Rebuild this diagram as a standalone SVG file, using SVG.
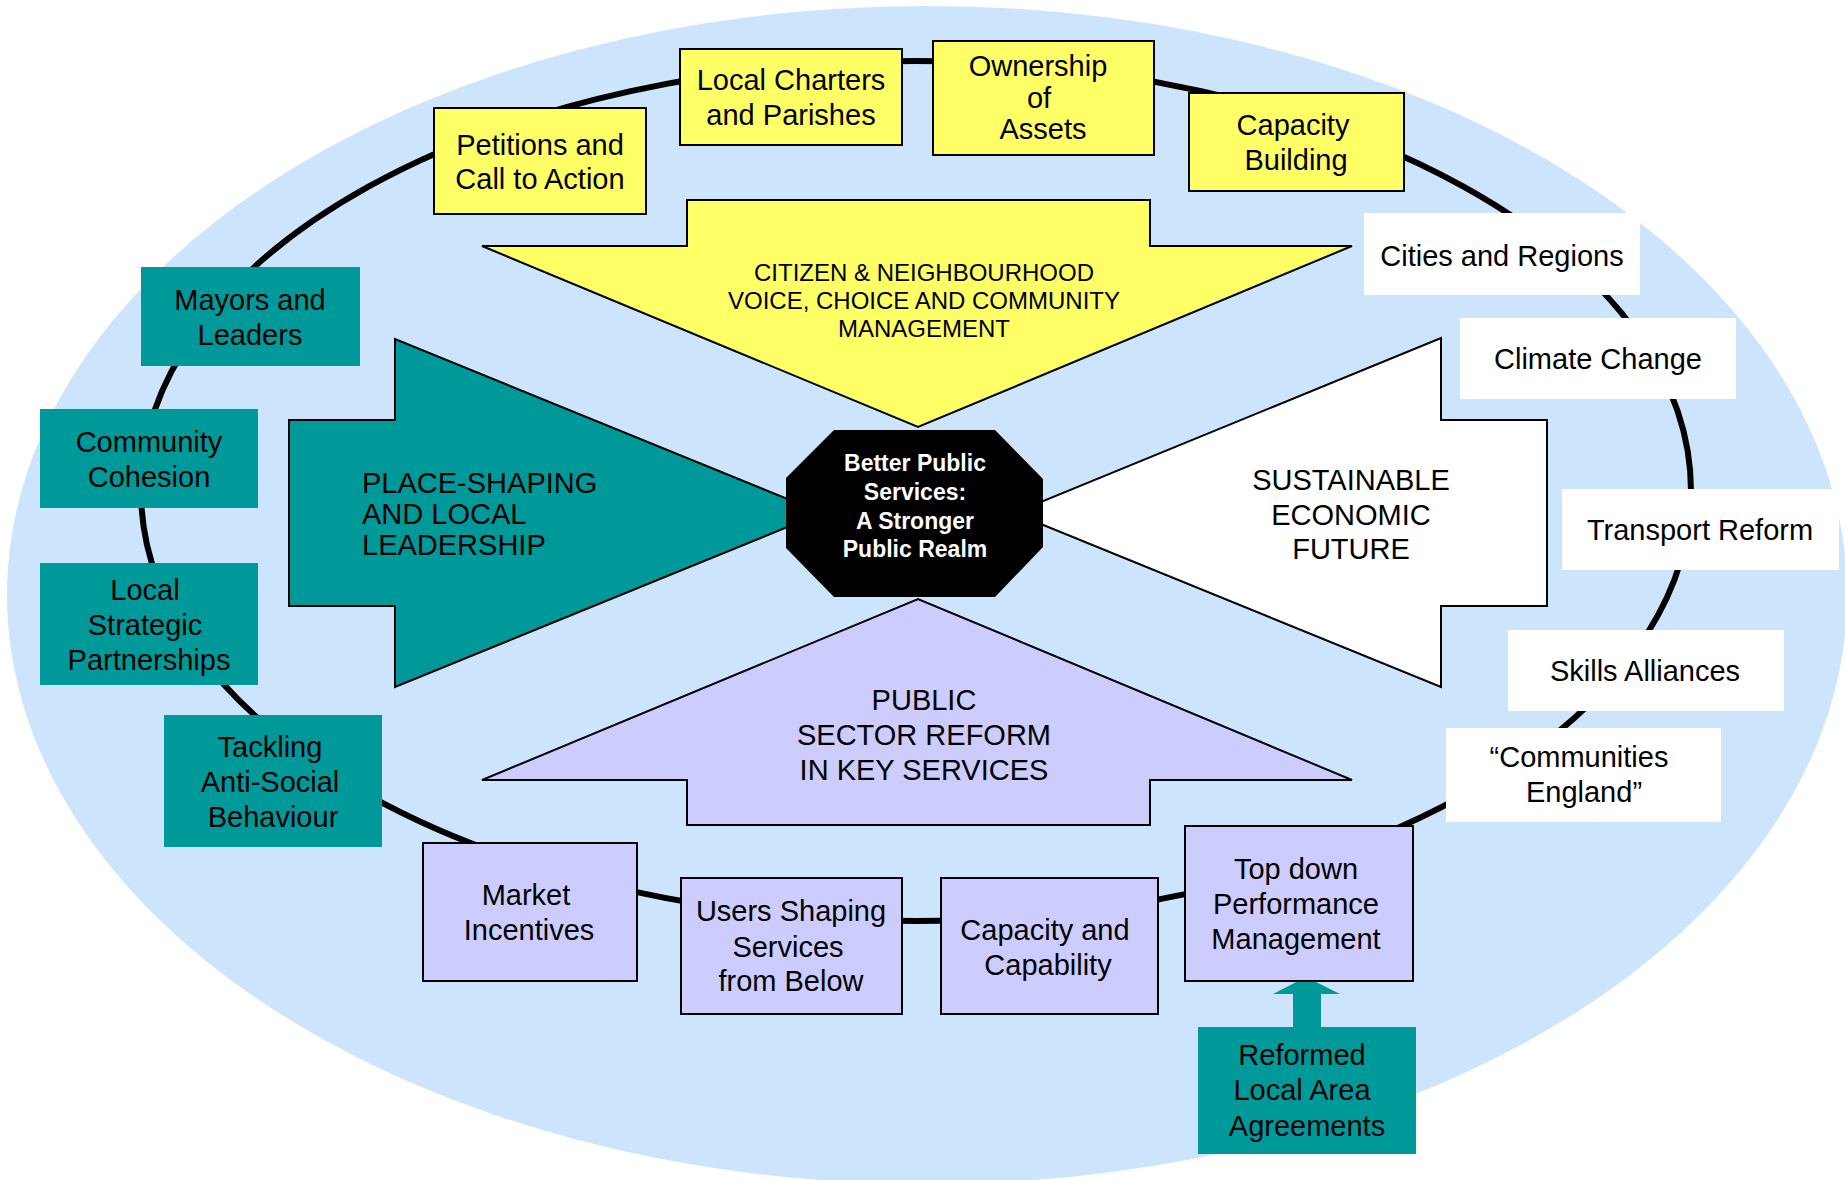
<svg xmlns="http://www.w3.org/2000/svg" width="1845" height="1180" viewBox="0 0 1845 1180">
<style>
text{font-family:"Liberation Sans",Arial,sans-serif;fill:#000;text-anchor:middle}
.t29{font-size:29px}
.t24{font-size:24px}
.oct{font-size:23px;font-weight:bold;fill:#fff}
.yel{fill:#FFFF66;stroke:#000;stroke-width:2}
.lav{fill:#CCCCFF;stroke:#000;stroke-width:2}
.teal{fill:#009999}
.wht{fill:#fff}
.arw{stroke:#000;stroke-width:2;stroke-linejoin:miter}
</style>
<rect width="1845" height="1180" fill="#fff"/>
<ellipse cx="927" cy="595" rx="920" ry="589" fill="#CCE5FD"/>
<g id="connectors">
<ellipse cx="916" cy="491" rx="775" ry="430" fill="none" stroke="#000" stroke-width="6"/>
<polygon class="teal" points="1293,1027 1321,1027 1321,994 1340,994 1306,977 1273,994 1293,994"/>
</g>
<g id="arrow-citizen">
<polygon class="arw" fill="#FFFF66" points="687,200 1150,200 1150,246 1352,246 918,427 482,246 687,246"/>
<text class="t24"><tspan x="924" y="281">CITIZEN &amp; NEIGHBOURHOOD</tspan><tspan x="924" y="309">VOICE, CHOICE AND COMMUNITY</tspan><tspan x="924" y="337">MANAGEMENT</tspan></text>
</g>
<g id="arrow-place">
<polygon class="arw" fill="#009999" points="289,420 395,420 395,339 822,513 395,687 395,606 289,606"/>
<text class="t29" style="text-anchor:start"><tspan x="362" y="493">PLACE-SHAPING</tspan><tspan x="362" y="524">AND LOCAL</tspan><tspan x="362" y="555">LEADERSHIP</tspan></text>
</g>
<g id="arrow-sustainable">
<polygon class="arw" fill="#FFFFFF" points="1547,420 1441,420 1441,338 1014,513 1441,687 1441,606 1547,606"/>
<text class="t29"><tspan x="1351" y="490">SUSTAINABLE</tspan><tspan x="1351" y="525">ECONOMIC</tspan><tspan x="1351" y="559">FUTURE</tspan></text>
</g>
<g id="arrow-public">
<polygon class="arw" fill="#CCCCFF" points="482,780 918,599 1352,780 1150,780 1150,825 687,825 687,780"/>
<text class="t29"><tspan x="924" y="710">PUBLIC</tspan><tspan x="924" y="745">SECTOR REFORM</tspan><tspan x="924" y="780">IN KEY SERVICES</tspan></text>
</g>
<g id="centre">
<polygon fill="#000" points="834,430 995,430 1043,479 1043,547 995,597 834,597 786,548 786,478"/>
<text class="oct"><tspan x="915" y="471">Better Public</tspan><tspan x="915" y="500">Services:</tspan><tspan x="915" y="529">A Stronger</tspan><tspan x="915" y="557">Public Realm</tspan></text>
</g>
<g id="petitions"><rect class="yel" x="434" y="108" width="212" height="106"/><text class="t29"><tspan x="540" y="155">Petitions and</tspan><tspan x="540" y="189">Call to Action</tspan></text></g>
<g id="charters"><rect class="yel" x="680" y="49" width="222" height="96"/><text class="t29"><tspan x="791" y="90">Local Charters</tspan><tspan x="791" y="125">and Parishes</tspan></text></g>
<g id="ownership"><rect class="yel" x="933" y="41" width="221" height="114"/><text class="t29"><tspan x="1038" y="76">Ownership</tspan><tspan x="1039" y="108">of</tspan><tspan x="1043" y="139">Assets</tspan></text></g>
<g id="capacity-building"><rect class="yel" x="1189" y="93" width="215" height="98"/><text class="t29"><tspan x="1293" y="135">Capacity</tspan><tspan x="1296" y="170">Building</tspan></text></g>
<g id="mayors"><rect class="teal" x="141" y="267" width="219" height="99"/><text class="t29"><tspan x="250" y="310">Mayors and</tspan><tspan x="250" y="345">Leaders</tspan></text></g>
<g id="cohesion"><rect class="teal" x="40" y="409" width="218" height="99"/><text class="t29"><tspan x="149" y="452">Community</tspan><tspan x="149" y="487">Cohesion</tspan></text></g>
<g id="lsp"><rect class="teal" x="40" y="563" width="218" height="122"/><text class="t29"><tspan x="145" y="600">Local</tspan><tspan x="145" y="635">Strategic</tspan><tspan x="149" y="670">Partnerships</tspan></text></g>
<g id="asb"><rect class="teal" x="164" y="715" width="218" height="132"/><text class="t29"><tspan x="270" y="757">Tackling</tspan><tspan x="270" y="792">Anti-Social</tspan><tspan x="273" y="827">Behaviour</tspan></text></g>
<g id="market"><rect class="lav" x="423" y="843" width="214" height="138"/><text class="t29"><tspan x="526" y="905">Market</tspan><tspan x="529" y="940">Incentives</tspan></text></g>
<g id="users"><rect class="lav" x="681" y="878" width="221" height="136"/><text class="t29"><tspan x="791" y="921">Users Shaping</tspan><tspan x="788" y="957">Services</tspan><tspan x="791" y="991">from Below</tspan></text></g>
<g id="capability"><rect class="lav" x="941" y="878" width="217" height="136"/><text class="t29"><tspan x="1045" y="940">Capacity and</tspan><tspan x="1048" y="975">Capability</tspan></text></g>
<g id="topdown"><rect class="lav" x="1185" y="826" width="228" height="155"/><text class="t29"><tspan x="1296" y="879">Top down</tspan><tspan x="1296" y="914">Performance</tspan><tspan x="1296" y="949">Management</tspan></text></g>
<g id="laa"><rect class="teal" x="1198" y="1027" width="218" height="127"/><text class="t29"><tspan x="1302" y="1065">Reformed</tspan><tspan x="1302" y="1100">Local Area</tspan><tspan x="1307" y="1136">Agreements</tspan></text></g>
<g id="cities"><rect class="wht" x="1364" y="213" width="276" height="82"/><text class="t29" x="1502" y="266">Cities and Regions</text></g>
<g id="climate"><rect class="wht" x="1460" y="318" width="276" height="81"/><text class="t29" x="1598" y="369">Climate Change</text></g>
<g id="transport"><rect class="wht" x="1562" y="489" width="277" height="81"/><text class="t29" x="1700" y="540">Transport Reform</text></g>
<g id="skills"><rect class="wht" x="1508" y="630" width="276" height="81"/><text class="t29" x="1645" y="681">Skills Alliances</text></g>
<g id="communities"><rect class="wht" x="1446" y="728" width="275" height="94"/><text class="t29"><tspan x="1579" y="767">“Communities</tspan><tspan x="1584" y="802">England”</tspan></text></g>
</svg>
